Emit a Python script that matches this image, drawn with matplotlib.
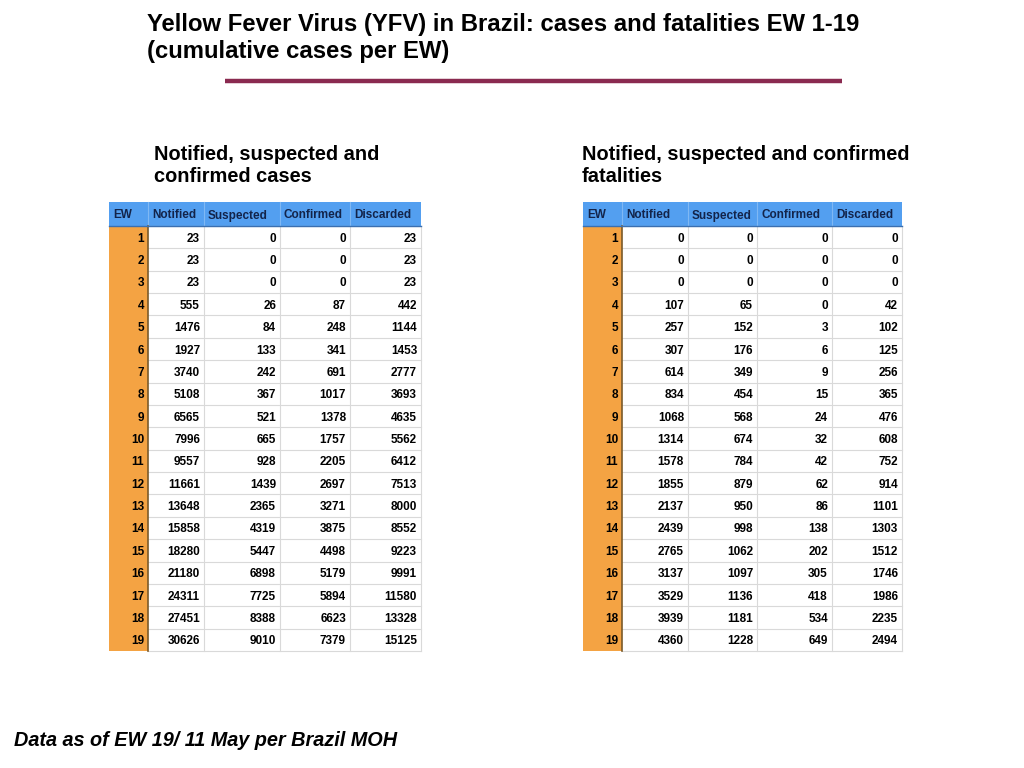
import matplotlib.pyplot as plt
from matplotlib.patches import Rectangle

title = "Yellow Fever Virus (YFV) in Brazil: cases and fatalities EW 1-19\n(cumulative cases per EW)"
footer = "Data as of EW 19/ 11 May per Brazil MOH"
columns = ["EW", "Notified", "Suspected", "Confirmed", "Discarded"]

ew = list(range(1, 20))

case_title = "Notified, suspected and\nconfirmed cases"
case_notified = [23, 23, 23, 555, 1476, 1927, 3740, 5108, 6565, 7996, 9557,
                 11661, 13648, 15858, 18280, 21180, 24311, 27451, 30626]
case_suspected = [0, 0, 0, 26, 84, 133, 242, 367, 521, 665, 928,
                  1439, 2365, 4319, 5447, 6898, 7725, 8388, 9010]
case_confirmed = [0, 0, 0, 87, 248, 341, 691, 1017, 1378, 1757, 2205,
                  2697, 3271, 3875, 4498, 5179, 5894, 6623, 7379]
case_discarded = [23, 23, 23, 442, 1144, 1453, 2777, 3693, 4635, 5562, 6412,
                  7513, 8000, 8552, 9223, 9991, 11580, 13328, 15125]

fat_title = "Notified, suspected and confirmed\nfatalities"
fat_notified = [0, 0, 0, 107, 257, 307, 614, 834, 1068, 1314, 1578,
                1855, 2137, 2439, 2765, 3137, 3529, 3939, 4360]
fat_suspected = [0, 0, 0, 65, 152, 176, 349, 454, 568, 674, 784,
                 879, 950, 998, 1062, 1097, 1136, 1181, 1228]
fat_confirmed = [0, 0, 0, 0, 3, 6, 9, 15, 24, 32, 42,
                 62, 86, 138, 202, 305, 418, 534, 649]
fat_discarded = [0, 0, 0, 42, 102, 125, 256, 365, 476, 608, 752,
                 914, 1101, 1303, 1512, 1746, 1986, 2235, 2494]

BLUE = "#539ff0"
ORANGE = "#f4a343"
GRID = "#d9d9d9"
HEAD_TXT = "#13244a"
FONT = ["Liberation Sans", "DejaVu Sans"]
NARROW = ["Liberation Sans Narrow", "Liberation Sans", "DejaVu Sans"]

fig = plt.figure(figsize=(10.24, 7.68), dpi=100)
ax = fig.add_axes([0, 0, 1, 1])
ax.set_xlim(0, 1024)
ax.set_ylim(768, 0)
ax.axis("off")


def draw_table(x_edges, top, head_h, row_h, cols):
    n = len(cols[0])
    left, right = x_edges[0], x_edges[-1]
    bottom = top + head_h + n * row_h
    # header band and EW column
    ax.add_patch(Rectangle((left, top), right - left, head_h, color=BLUE, lw=0))
    ax.add_patch(Rectangle((left, top + head_h), x_edges[1] - left, n * row_h,
                           color=ORANGE, lw=0))
    # grid
    for i in range(n + 1):
        y = top + head_h + i * row_h
        ax.plot([x_edges[1], right], [y, y], color=GRID, lw=0.8)
    for x in x_edges[2:]:
        ax.plot([x, x], [top + head_h, bottom], color=GRID, lw=0.8)
    for x in x_edges[1:-1]:
        ax.plot([x, x], [top, top + head_h], color="#7fb8f4", lw=0.8)
    ax.plot([x_edges[1], x_edges[1]], [top + head_h, bottom], color="#7a5a2a", lw=1.2)
    ax.plot([left, right], [top + head_h, top + head_h], color="#3a6fb0", lw=1.0)
    # header text
    for j, name in enumerate(columns):
        ax.text(x_edges[j] + 4, top + head_h / 2 + 4.5, name, ha="left", va="baseline",
                fontsize=8.5, fontweight="bold", color=HEAD_TXT, family=FONT)
    # body
    for i in range(n):
        y = top + head_h + (i + 0.5) * row_h + 4.5
        for j, col in enumerate(cols):
            ax.text(x_edges[j + 1] - 4, y, str(col[i]), ha="right", va="baseline",
                    fontsize=8.5, fontweight="bold", color="black", family=FONT)


ax.text(147, 13, title, ha="left", va="top", fontsize=17.2, fontweight="bold",
        family=NARROW, linespacing=1.22)
ax.plot([225, 842], [81, 81], color="#8a2a50", lw=3.2, solid_capstyle="butt")

ax.text(154, 145, case_title, ha="left", va="top", fontsize=14.4, fontweight="bold",
        family=FONT, linespacing=1.2)
ax.text(582, 145, fat_title, ha="left", va="top", fontsize=14.4, fontweight="bold",
        family=FONT, linespacing=1.2)

draw_table([109, 148, 204, 280, 350, 421], 202, 24, 22.37,
           [ew, case_notified, case_suspected, case_confirmed, case_discarded])
draw_table([583, 622, 688, 757, 832, 902], 202, 24, 22.37,
           [ew, fat_notified, fat_suspected, fat_confirmed, fat_discarded])

ax.text(14, 741, footer, ha="left", va="center", fontsize=14.3, fontweight="bold",
        style="italic", family=FONT)

fig.savefig("out.png", dpi=100)
